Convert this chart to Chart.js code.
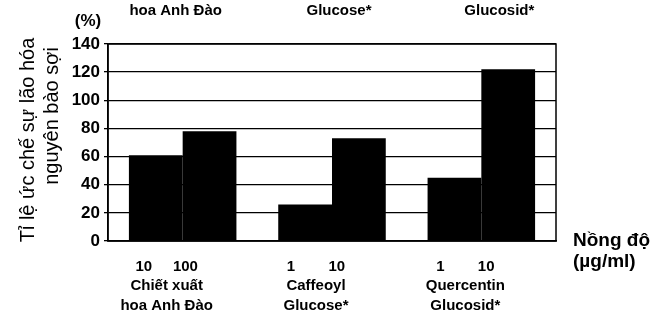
<!DOCTYPE html>
<html>
<head>
<meta charset="utf-8">
<script src="https://cdn.jsdelivr.net/npm/chart.js@4"></script>
<style>
  html, body { margin: 0; padding: 0; background: #fff; }
  #wrap { width: 661px; height: 319px; }
</style>
</head>
<body>
<div id="wrap"><canvas id="myChart" width="661" height="319"></canvas></div>
<script>
// data
const groupNames = [
    ['Chiết xuất', 'hoa Anh Đào'],
    ['Caffeoyl', 'Glucose*'],
    ['Quercentin', 'Glucosid*']
]
const doseLabels = [['10', '100'], ['1', '10'], ['1', '10']]
const lowDose = [61, 26, 45]
const highDose = [78, 73, 122]
const yTicks = [0, 20, 40, 60, 80, 100, 120, 140]
const topLabels = ['hoa Anh Đào', 'Glucose*', 'Glucosid*'] // cut-off text from the chart above
const yTitle = ['Tỉ lệ ức chế sự lão hóa', 'nguyên bào sợi']
const unitLabel = ['Nồng độ', '(µg/ml)']

const gaps = ['     ', '        ', '        ']
const xLabels = groupNames.map((g, i) => [doseLabels[i][0] + gaps[i] + doseLabels[i][1], g[0], g[1]])

const FONT = "'Liberation Sans', Arial, sans-serif"

const extras = {
    id: 'extras',
    beforeDatasetsDraw(chart) {
        const { ctx, chartArea: a } = chart
        ctx.save()
        ctx.strokeStyle = '#000'
        ctx.lineWidth = 1.5
        ctx.strokeRect(a.left, a.top, a.right - a.left, a.bottom - a.top)
        ctx.restore()
    },
    afterDraw(chart) {
        const { ctx, scales } = chart
        ctx.save()
        ctx.fillStyle = '#000'
        ctx.textBaseline = 'middle'
        ctx.textAlign = 'center'
        // cut-off labels at the very top
        ctx.font = 'bold 15px ' + FONT
        const topShift = [-7, 7, 18]
        topLabels.forEach((t, i) => {
            ctx.fillText(t, scales.x.getPixelForValue(i) + topShift[i], 11)
        })
        // unit of y axis
        ctx.font = 'bold 17px ' + FONT
        ctx.fillText('(%)', 88, 21)
        // y title, rotated
        ctx.font = '20px ' + FONT
        ctx.save()
        ctx.translate(28, 140)
        ctx.rotate(-Math.PI / 2)
        ctx.fillText(yTitle[0], 0, 0)
        ctx.restore()
        ctx.save()
        ctx.translate(52, 116)
        ctx.rotate(-Math.PI / 2)
        ctx.fillText(yTitle[1], 0, 0)
        ctx.restore()
        // concentration unit on the right
        ctx.font = 'bold 19px ' + FONT
        ctx.textAlign = 'left'
        ctx.fillText(unitLabel[0], 573, 241)
        ctx.fillText(unitLabel[1], 573, 262)
        ctx.restore()
    }
}

new Chart(document.getElementById('myChart'), {
    type: 'bar',
    data: {
        labels: xLabels,
        datasets: [
            { label: 'low', data: lowDose, backgroundColor: '#000', barPercentage: 1, categoryPercentage: 0.72 },
            { label: 'high', data: highDose, backgroundColor: '#000', barPercentage: 1, categoryPercentage: 0.72 }
        ]
    },
    options: {
        responsive: false,
        animation: false,
        events: [],
        layout: { padding: { left: 0, right: 105, top: 44, bottom: 0 } },
        plugins: { legend: { display: false }, tooltip: { enabled: false }, title: { display: false } },
        scales: {
            x: {
                grid: { display: false },
                border: { color: '#000', width: 1.5 },
                afterFit: s => { s.height = 78 },
                ticks: {
                    color: '#000',
                    font: { family: FONT, size: 15, weight: 'bold', lineHeight: 1.3 },
                    padding: 8,
                    labelOffset: -16,
                    maxRotation: 0,
                    autoSkip: false
                }
            },
            y: {
                min: 0,
                max: 140,
                afterBuildTicks: s => { s.ticks = yTicks.map(v => ({ value: v })) },
                afterFit: s => { s.width = 108 },
                grid: { color: '#000', lineWidth: 1.3, tickLength: 4 },
                border: { color: '#000', width: 1.5 },
                ticks: {
                    color: '#000',
                    font: { family: FONT, size: 17, weight: 'bold' },
                    padding: 4
                }
            }
        }
    },
    plugins: [extras]
})
</script>
</body>
</html>
